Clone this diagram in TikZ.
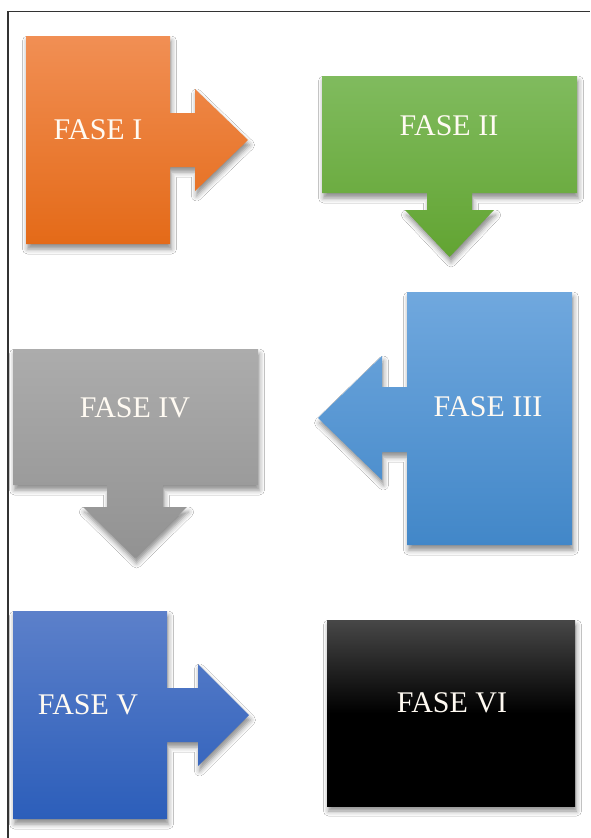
\documentclass[tikz,border=0pt]{standalone}
\usepackage{fontspec}
\setmainfont{Liberation Serif}
\usetikzlibrary{shadows.blur}

\definecolor{orTop}{RGB}{241,143,84}
\definecolor{orBot}{RGB}{228,106,24}
\definecolor{grTop}{RGB}{128,187,94}
\definecolor{grBot}{RGB}{98,164,50}
\definecolor{blTop}{RGB}{112,168,222}
\definecolor{blBot}{RGB}{66,135,200}
\definecolor{gyTop}{RGB}{172,172,172}
\definecolor{gyBot}{RGB}{146,146,146}
\definecolor{dbTop}{RGB}{92,128,202}
\definecolor{dbBot}{RGB}{44,94,186}
\definecolor{label}{RGB}{255,250,242}

\tikzset{
  phase/.style={blur shadow={shadow xshift=1.5pt, shadow yshift=-5pt,
      shadow blur radius=5pt, shadow opacity=45}},
  phaselabel/.style={text=label, font=\fontsize{30}{32}\selectfont, inner sep=0pt}
}

\begin{document}
\begin{tikzpicture}[x=1pt, y=-1pt]
\useasboundingbox (0,0) rectangle (590,838);
\fill[white] (0,0) rectangle (590,838);

% page frame
\draw[line width=1.2pt, black!80] (8,838) -- (8,11.5) -- (590,11.5);

% Fase I: block with arrow to the right
\path[phase, top color=orTop, bottom color=orBot]
  (26,36) -- (170,36) -- (170,113) -- (195,113) -- (195,89) -- (248,140)
  -- (195,191) -- (195,167) -- (170,167) -- (170,244) -- (26,244) -- cycle;
\node[phaselabel] (f1) at (98,130) {FASE I};

% Fase II: block with arrow downwards
\path[phase, top color=grTop, bottom color=grBot]
  (322,76) -- (577,76) -- (577,193) -- (472,193) -- (472,210) -- (494,210)
  -- (449.5,257) -- (405,210) -- (427,210) -- (427,193) -- (322,193) -- cycle;
\node[phaselabel] (f2) at (449,126) {FASE II};

% Fase III: block with arrow to the left
\path[phase, top color=blTop, bottom color=blBot]
  (407,292) -- (572,292) -- (572,545) -- (407,545) -- (407,452) -- (382,452)
  -- (382,480) -- (318,418) -- (382,356) -- (382,387) -- (407,387) -- cycle;
\node[phaselabel] (f3) at (488,407) {FASE III};

% Fase IV: block with arrow downwards
\path[phase, top color=gyTop, bottom color=gyBot]
  (13,349) -- (258,349) -- (258,485) -- (163,485) -- (163,507) -- (187,507)
  -- (135,558) -- (83,507) -- (107,507) -- (107,485) -- (13,485) -- cycle;
\node[phaselabel] (f4) at (135,408) {FASE IV};

% Fase V: block with arrow to the right
\path[phase, top color=dbTop, bottom color=dbBot]
  (13,611) -- (167,611) -- (167,688) -- (198,688) -- (198,664) -- (249,715)
  -- (198,766) -- (198,742) -- (167,742) -- (167,819) -- (13,819) -- cycle;
\node[phaselabel] (f5) at (88,705) {FASE V};

% Fase VI: final block, dark grey fading to black by mid-height
\path[phase, top color=black!72, bottom color=black, middle color=black]
  (327,620) rectangle (575,806);
\node[phaselabel] (f6) at (452,703) {FASE VI};
\end{tikzpicture}
\end{document}
